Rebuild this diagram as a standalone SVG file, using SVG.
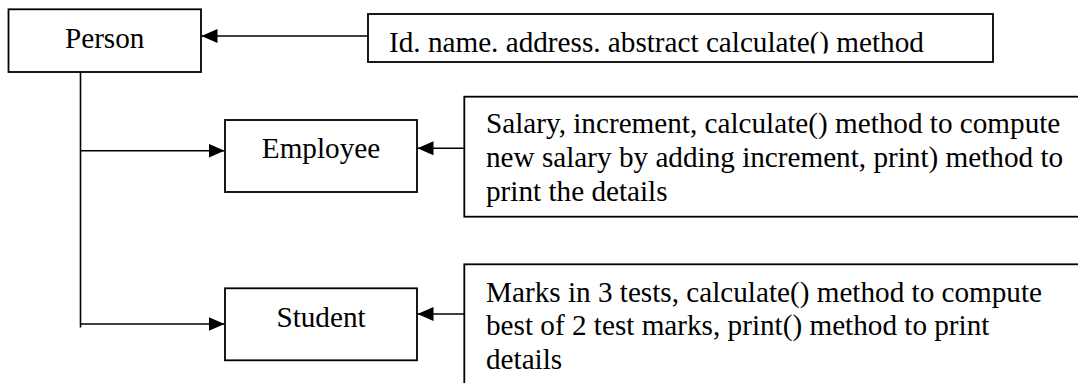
<svg xmlns="http://www.w3.org/2000/svg" width="1078" height="383" viewBox="0 0 1078 383">
<style>
  .box { fill: #ffffff; stroke: #000000; stroke-width: 1.8; }
  .lbl { font-family: "Liberation Serif", "Times New Roman", serif; font-size: 29.2px; fill: #000000; }
  .mid { text-anchor: middle; }
  .conn { fill: none; stroke: #000000; stroke-width: 1.6; }
</style>
<defs>
  <marker id="arrow" viewBox="0 0 16 14" refX="16" refY="7" markerWidth="16" markerHeight="14" markerUnits="userSpaceOnUse" orient="auto">
    <path d="M0,0 L16,7 L0,14 Z" fill="#000000"/>
  </marker>
  <clipPath id="clipId">
    <rect x="368" y="14" width="625" height="39.5"/>
  </clipPath>
</defs>
<rect x="0" y="0" width="1078" height="383" fill="#ffffff"/>

<g id="connectors">
  <line class="conn" x1="368" y1="36" x2="201.5" y2="36" marker-end="url(#arrow)"/>
  <line class="conn" x1="80.5" y1="72" x2="80.5" y2="327.5"/>
  <line class="conn" x1="80.5" y1="150.7" x2="224.5" y2="150.7" marker-end="url(#arrow)"/>
  <line class="conn" x1="80.5" y1="324" x2="224.5" y2="324" marker-end="url(#arrow)"/>
  <line class="conn" x1="464.3" y1="148.3" x2="417.5" y2="148.3" marker-end="url(#arrow)"/>
  <line class="conn" x1="464.3" y1="314" x2="417.5" y2="314" marker-end="url(#arrow)"/>
</g>

<g id="person">
  <rect class="box" x="8.5" y="9.3" width="192.5" height="62.7"/>
  <text class="lbl mid" x="104.7" y="48.3">Person</text>
</g>

<g id="person-attrs">
  <rect class="box" x="368" y="14" width="625" height="48"/>
  <text class="lbl" x="389" y="52" clip-path="url(#clipId)">Id. name. address. abstract calculate() method</text>
</g>

<g id="employee">
  <rect class="box" x="225" y="120" width="192" height="72"/>
  <text class="lbl mid" x="321" y="158.3">Employee</text>
</g>

<g id="employee-attrs">
  <rect class="box" x="464.3" y="96.7" width="640" height="120"/>
  <text class="lbl" x="486" y="132.7">Salary, increment, calculate() method to compute</text>
  <text class="lbl" x="486" y="166.9">new salary by adding increment, print) method to</text>
  <text class="lbl" x="486" y="201.1">print the details</text>
</g>

<g id="student">
  <rect class="box" x="225" y="288.3" width="192" height="72"/>
  <text class="lbl mid" x="321" y="326.7">Student</text>
</g>

<g id="student-attrs">
  <rect class="box" x="464.3" y="264.3" width="640" height="150"/>
  <text class="lbl" x="486" y="301.7">Marks in 3 tests, calculate() method to compute</text>
  <text class="lbl" x="486" y="335.2">best of 2 test marks, print() method to print</text>
  <text class="lbl" x="486" y="368.6">details</text>
</g>
</svg>
